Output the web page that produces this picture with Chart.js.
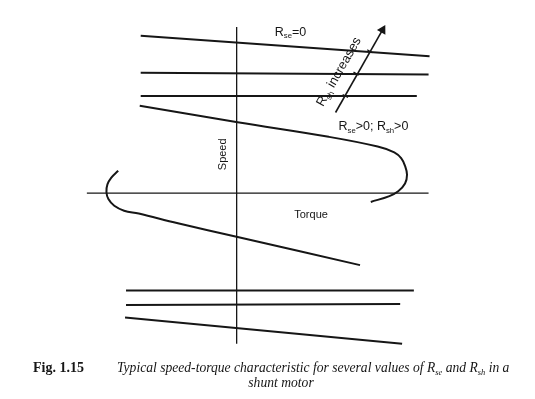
<!DOCTYPE html>
<html>
<head>
<meta charset="utf-8">
<script src="https://cdn.jsdelivr.net/npm/chart.js@4"></script>
<style>
  html, body { margin: 0; padding: 0; background: #fff; }
  #wrap { width: 535px; height: 399px; }
</style>
</head>
<body>
<div id="wrap"><canvas id="myChart"></canvas></div>
<script>
// torque (x) / speed (y), arbitrary units, origin where the axes cross
const torqueAxisX = [-153, 196];
const torqueAxisY = [0, 0];
const speedAxisX = [0, 0];
const speedAxisY = [171, -155];

// upper straight characteristics (R_se = 0, several R_sh)
const line1X = [-98, 197];   const line1Y = [162, 141];
const line2X = [-98, 196];   const line2Y = [124, 122];
const line3X = [-98, 184];   const line3Y = [100, 100];

// R_se > 0; R_sh > 0 curve (right branch)
const curveRightX = [-99, 1, 94, 144, 161, 168, 172, 174, 172, 165, 156, 137];
const curveRightY = [90, 73, 58, 48, 42, 36, 28, 19, 10, 2, -3, -9];

// left branch
const curveLeftX = [-121, -128, -132, -133, -131, -125, -115, -100, -60, 1, 126];
const curveLeftY = [23, 16, 9, 1, -6, -13, -18, -21, -31, -45, -74];

// lower straight characteristics
const line4X = [-113, 181];  const line4Y = [-100, -100];
const line5X = [-113, 167];  const line5Y = [-115, -114];
const line6X = [-114, 169];  const line6Y = [-128, -155];

// "R_sh increases" arrow and its crossing marks
const arrowX = [101, 149];
const arrowY = [83, 168];
const crossX = [136, 122, 111];
const crossY = [146, 123, 100];

const ink = '#161616';

function pts(xs, ys) {
    return xs.map((x, i) => ({ x: x, y: ys[i] }));
}

function lineSet(xs, ys, width, tension) {
    return {
        data: pts(xs, ys),
        showLine: true,
        borderColor: ink,
        borderWidth: width,
        pointRadius: 0,
        tension: tension || 0,
        fill: false
    };
}

// draws text pieces, some as subscripts ("R" + "se")
function drawParts(ctx, parts, x, y, size, family, style) {
    let cx = x;
    parts.forEach(p => {
        const fs = p.sub ? size * 0.62 : size;
        ctx.font = style + ' ' + fs + 'px ' + family;
        ctx.fillText(p.t, cx, p.sub ? y + size * 0.22 : y);
        cx += ctx.measureText(p.t).width;
    });
    return cx - x;
}

function partsWidth(ctx, parts, size, family, style) {
    let w = 0;
    parts.forEach(p => {
        const fs = p.sub ? size * 0.62 : size;
        ctx.font = style + ' ' + fs + 'px ' + family;
        w += ctx.measureText(p.t).width;
    });
    return w;
}

const textPlugin = {
    id: 'labels',
    afterDatasetsDraw(chart) {
        const ctx = chart.ctx;
        const sx = chart.scales.x, sy = chart.scales.y;
        const sans = '"Liberation Sans", Arial, sans-serif';
        const serif = '"Liberation Serif", "Times New Roman", serif';
        ctx.save();
        ctx.fillStyle = ink;
        ctx.textBaseline = 'alphabetic';
        ctx.textAlign = 'left';

        drawParts(ctx, [{ t: 'R' }, { t: 'se', sub: true }, { t: '=0' }],
            sx.getPixelForValue(39), sy.getPixelForValue(162), 12.5, sans, 'normal');
        drawParts(ctx, [{ t: 'R' }, { t: 'se', sub: true }, { t: '>0; R' }, { t: 'sh', sub: true }, { t: '>0' }],
            sx.getPixelForValue(104), sy.getPixelForValue(65), 12.5, sans, 'normal');

        // axis names
        ctx.font = '11px ' + sans;
        ctx.textAlign = 'center';
        ctx.textBaseline = 'middle';
        ctx.fillText('Torque', sx.getPixelForValue(76), sy.getPixelForValue(-22));
        ctx.save();
        ctx.translate(sx.getPixelForValue(-14), sy.getPixelForValue(40));
        ctx.rotate(-Math.PI / 2);
        ctx.fillText('Speed', 0, 0);
        ctx.restore();

        // rotated arrow label, parallel to the arrow
        const ax0 = sx.getPixelForValue(arrowX[0]), ay0 = sy.getPixelForValue(arrowY[0]);
        const ax1 = sx.getPixelForValue(arrowX[1]), ay1 = sy.getPixelForValue(arrowY[1]);
        const ang = Math.atan2(ay1 - ay0, ax1 - ax0);
        const lab = [{ t: 'R' }, { t: 'sh', sub: true }, { t: ' increases' }];
        ctx.save();
        ctx.translate(sx.getPixelForValue(106), sy.getPixelForValue(124));
        ctx.rotate(ang);
        ctx.textAlign = 'left';
        ctx.textBaseline = 'alphabetic';
        const lw = partsWidth(ctx, lab, 13, sans, 'normal');
        drawParts(ctx, lab, -lw / 2, 2, 13, sans, 'normal');
        ctx.restore();

        // caption
        ctx.textAlign = 'left';
        ctx.textBaseline = 'alphabetic';
        ctx.font = 'bold 14px ' + serif;
        ctx.fillText('Fig. 1.15', 33, 372);
        drawParts(ctx, [
            { t: 'Typical speed-torque characteristic for several values of R' },
            { t: 'se', sub: true },
            { t: ' and R' },
            { t: 'sh', sub: true },
            { t: ' in a' }
        ], 117, 372, 13.6, serif, 'italic');
        ctx.font = 'italic 13.6px ' + serif;
        ctx.textAlign = 'center';
        ctx.fillText('shunt motor', 281, 387);
        ctx.restore();
    }
};

const ctx = document.getElementById('myChart').getContext('2d');

new Chart(ctx, {
    type: 'scatter',
    data: {
        datasets: [
            lineSet(torqueAxisX, torqueAxisY, 1.3),
            lineSet(speedAxisX, speedAxisY, 1.3),
            lineSet(line1X, line1Y, 2),
            lineSet(line2X, line2Y, 2),
            lineSet(line3X, line3Y, 2),
            lineSet(curveRightX, curveRightY, 2, 0.4),
            lineSet(curveLeftX, curveLeftY, 2, 0.4),
            lineSet(line4X, line4Y, 2),
            lineSet(line5X, line5Y, 2),
            lineSet(line6X, line6Y, 2),
            Object.assign(lineSet(arrowX, arrowY, 1.6), {
                pointRadius: [0, 4],
                pointStyle: 'triangle',
                pointRotation: 29.5,
                pointBackgroundColor: ink,
                pointBorderColor: ink
            }),
            {
                data: pts(crossX, crossY),
                showLine: false,
                pointStyle: 'line',
                pointRadius: 3,
                pointRotation: 29.5,
                borderColor: ink,
                pointBorderWidth: 1.3
            }
        ]
    },
    options: {
        responsive: true,
        maintainAspectRatio: false,
        animation: false,
        layout: { padding: 0 },
        plugins: {
            legend: { display: false },
            tooltip: { enabled: false },
            title: { display: false }
        },
        scales: {
            x: { type: 'linear', display: false, min: -236, max: 299 },
            y: { type: 'linear', display: false, min: -206, max: 193 }
        }
    },
    plugins: [textPlugin]
});
</script>
</body>
</html>
